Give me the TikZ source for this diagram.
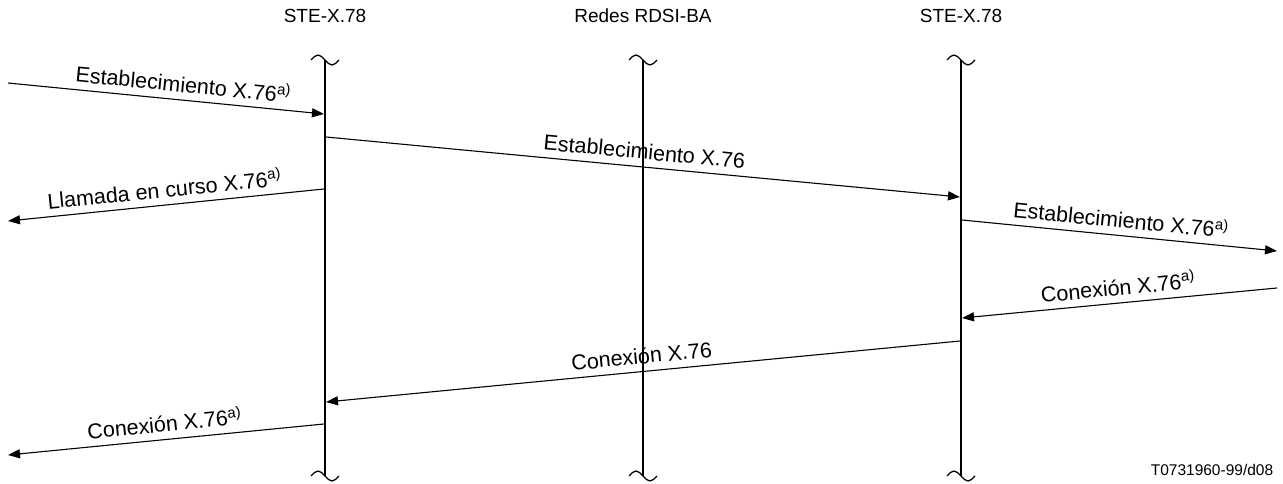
\documentclass[tikz,border=0pt]{standalone}
\usepackage{fontspec}
\setmainfont{Liberation Sans}
\usetikzlibrary{arrows.meta}
\begin{document}
\begin{tikzpicture}[x=1pt,y=-1pt,
  msg/.style={line width=1.1pt,-{Triangle[length=12pt,width=9pt]}},
  life/.style={line width=2pt},
  wave/.style={line width=1.3pt},
  lbl/.style={font=\fontsize{21.5}{25}\selectfont, sloped, above=6pt, inner sep=1pt},
  head/.style={font=\fontsize{19}{22}\selectfont},
  foot/.style={font=\fontsize{15.5}{18}\selectfont}]
\useasboundingbox (0,0) rectangle (1283,484);
% headers
\node[head] (hA) at (325,16) {STE-X.78};
\node[head] (hB) at (643,16) {Redes RDSI-BA};
\node[head] (hC) at (961,16) {STE-X.78};
% lifelines
\foreach \x/\n in {325/A,643/B,961/C}{
  \coordinate (top\n) at (\x,60);
  \coordinate (bot\n) at (\x,476);
  \draw[life] (top\n) -- (bot\n);
  \draw[wave] (\x-14,60) sin (\x-7,55) cos (\x,60) sin (\x+7,65) cos (\x+14,60);
  \draw[wave] (\x-14,476) sin (\x-7,471) cos (\x,476) sin (\x+7,481) cos (\x+14,476);
}
% message end points
\coordinate (m1s) at (8,83);    \coordinate (m1e) at (324,114);
\coordinate (m2s) at (326,137); \coordinate (m2e) at (960,197);
\coordinate (m3s) at (324,189); \coordinate (m3e) at (8,221);
\coordinate (m4s) at (962,220); \coordinate (m4e) at (1277,251);
\coordinate (m5s) at (1277,288); \coordinate (m5e) at (962,318);
\coordinate (m6s) at (960,341); \coordinate (m6e) at (326,402);
\coordinate (m7s) at (324,424); \coordinate (m7e) at (8,455);
% messages
\draw[msg] (m1s) -- (m1e) node[lbl,pos=0.55] {Establecimiento X.76\textsuperscript{a)}};
\draw[msg] (m2s) -- (m2e) node[lbl,midway] {Establecimiento X.76};
\draw[msg] (m3s) -- (m3e) node[lbl,midway] {Llamada en curso X.76\textsuperscript{a)}};
\draw[msg] (m4s) -- (m4e) node[lbl,midway] {Establecimiento X.76\textsuperscript{a)}};
\draw[msg] (m5s) -- (m5e) node[lbl,midway] {Conexión X.76\textsuperscript{a)}};
\draw[msg] (m6s) -- (m6e) node[lbl,midway] {Conexión X.76};
\draw[msg] (m7s) -- (m7e) node[lbl,midway] {Conexión X.76\textsuperscript{a)}};
% footer
\node[foot] (ft) at (1212,470) {T0731960-99/d08};
\end{tikzpicture}
\end{document}
